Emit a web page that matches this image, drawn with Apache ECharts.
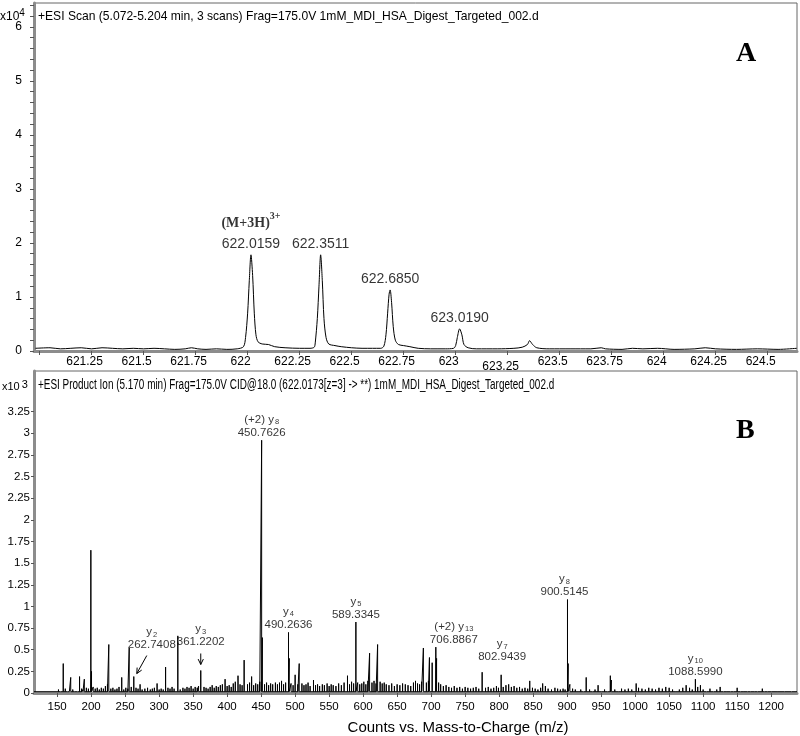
<!DOCTYPE html>
<html><head><meta charset="utf-8">
<script src="https://cdn.jsdelivr.net/npm/echarts@6/dist/echarts.min.js"></script>
<style>html,body{margin:0;padding:0;background:#fff}#c{width:800px;height:736px}</style>
</head><body><div id="c"></div>
<script>
// ---------- Panel A: MS1 profile (m/z, counts x10^4) ----------
const profileA = [
 [620.98,0.05],[621.05,0.06],[621.1,0.04],[621.15,0.05],[621.2,0.06],[621.25,0.04],[621.3,0.06],[621.35,0.05],[621.4,0.04],[621.45,0.05],[621.5,0.04],[621.55,0.05],[621.6,0.04],[621.65,0.03],[621.7,0.04],[621.73,0.06],[621.76,0.04],[621.8,0.03],[621.85,0.04],[621.9,0.03],[621.95,0.04],
 [621.98,0.08],[621.99,0.25],[622.0,0.7],[622.008,1.3],[622.016,1.78],[622.024,1.4],[622.032,0.7],[622.04,0.3],[622.05,0.17],[622.07,0.13],[622.1,0.12],[622.13,0.08],[622.18,0.06],[622.25,0.05],[622.3,0.05],[622.32,0.07],
 [622.325,0.15],[622.335,0.6],[622.343,1.2],[622.351,1.78],[622.359,1.3],[622.367,0.6],[622.377,0.25],[622.39,0.13],[622.42,0.1],[622.45,0.08],[622.5,0.06],[622.55,0.05],[622.6,0.05],[622.64,0.05],[622.655,0.09],
 [622.665,0.3],[622.673,0.7],[622.68,1.05],[622.685,1.13],[622.692,0.9],[622.7,0.45],[622.71,0.2],[622.725,0.12],[622.75,0.1],[622.78,0.08],[622.82,0.05],[622.88,0.04],[622.95,0.04],[622.99,0.05],[623.0,0.1],
 [623.008,0.25],[623.019,0.41],[623.03,0.3],[623.04,0.12],[623.06,0.06],[623.1,0.04],[623.2,0.04],[623.28,0.05],[623.32,0.07],[623.345,0.12],[623.355,0.19],[623.37,0.12],[623.39,0.06],[623.45,0.04],[623.55,0.04],[623.65,0.04],[623.7,0.06],[623.72,0.04],[623.8,0.03],[623.85,0.05],[623.9,0.04],[623.97,0.05],[624.05,0.03],[624.15,0.04],[624.2,0.06],[624.25,0.04],[624.35,0.03],[624.45,0.04],[624.55,0.03],[624.64,0.05]
];
const peakMzA = [622.0159, 622.3511, 622.6850, 623.0190];
const peakIntA = [1.78, 1.78, 1.13, 0.41];
const peakTextA = ['622.0159', '622.3511', '622.6850', '623.0190'];
const ionTextA = '(M+3H)';
const ionChargeA = '3+';
const xTickA = [621, 621.25, 621.5, 621.75, 622, 622.25, 622.5, 622.75, 623, 623.25, 623.5, 623.75, 624, 624.25, 624.5];
const xLabelA = [621.25, 621.5, 621.75, 622, 622.25, 622.5, 622.75, 623, 623.25, 623.5, 623.75, 624, 624.25, 624.5];
const yLabelA = [0, 1, 2, 3, 4, 5, 6];
const yMinorA = [0,0.2,0.4,0.6,0.8,1,1.2,1.4,1.6,1.8,2,2.2,2.4,2.6,2.8,3,3.2,3.4,3.6,3.8,4,4.2,4.4,4.6,4.8,5,5.2,5.4,5.6,5.8,6,6.2,6.4];
const headerA = '+ESI Scan (5.072-5.204 min, 3 scans) Frag=175.0V 1mM_MDI_HSA_Digest_Targeted_002.d';

// ---------- Panel B: MS/MS centroid (m/z, counts x10^3) ----------
const peaksB = [
 [159,0.34],[170,0.18],[183,0.19],[190,0.16],[199.6,1.65],[200.6,0.25],[226,0.56],[245,0.18],[256,0.52],[262.74,0.19],[272,0.1],[297,0.11],[309.5,0.3],[327.5,0.66],[361.22,0.26],[378,0.09],[397,0.16],[416,0.2],[425,0.38],[436,0.19],
 [450.76,2.92],[451.8,0.64],[471,0.12],[490.26,0.7],[491.3,0.4],[500,0.21],[506,0.34],[577,0.2],[589.33,0.82],[609.5,0.46],[621.3,0.56],[688.6,0.52],[697.5,0.41],[701.5,0.35],[706.89,0.53],[708,0.4],
 [775,0.24],[802.94,0.21],[845,0.14],[864,0.11],[900.51,1.08],[901.5,0.34],[928,0.18],[945.5,0.09],[963.5,0.2],[965,0.15],[1001.5,0.11],[1088.6,0.16],[1096,0.09],[1125,0.07],[1150,0.06],[1187,0.05]
];
const grassB = [
 [152,0.04],[155,0.03],[162,0.05],[165,0.02],[168,0.03],[173,0.04],[176,0.03],[180,0.02],[186,0.05],[188,0.04],[193,0.06],[196,0.05],[203,0.07],[206,0.05],[209,0.06],[212,0.04],[215,0.06],[218,0.05],[221,0.08],[224,0.1],[229,0.05],[232,0.06],[235,0.04],[238,0.05],[241,0.07],[248,0.04],[251,0.06],[254,0.05],[259,0.07],[266,0.06],[269,0.05],[275,0.04],[279,0.05],[283,0.06],[287,0.04],[290,0.05],[293,0.06],[300,0.04],[303,0.05],[306,0.04],[313,0.06],[316,0.05],[319,0.07],[322,0.05],[331,0.04],[335,0.06],[338,0.05],[341,0.07],[344,0.06],[347,0.08],[350,0.05],[353,0.07],[356,0.06],[358,0.08],[366,0.07],[369,0.06],[372,0.05],[375,0.07],[381,0.06],[384,0.08],[387,0.07],[390,0.09],[393,0.1],[400,0.08],[403,0.09],[406,0.07],[409,0.11],[412,0.13],[419,0.1],[422,0.09],[430,0.1],[433,0.12],[439,0.09],[442,0.11],[445,0.1],[448,0.13],[455,0.1],[458,0.12],[461,0.09],[464,0.11],[467,0.1],[474,0.1],[477,0.12],[480,0.14],[483,0.1],[486,0.12],[494,0.11],[497,0.09],[504,0.1],[510,0.11],[513,0.09],[516,0.1],[519,0.12],[522,0.08],[527,0.15],[530,0.09],[533,0.1],[536,0.08],[540,0.1],[543,0.09],[547,0.11],[550,0.08],[553,0.1],[556,0.09],[560,0.08],[564,0.11],[568,0.09],[572,0.12],[580,0.1],[583,0.13],[586,0.11],[592,0.12],[595,0.1],[598,0.11],[601,0.13],[604,0.1],[607,0.14],[613,0.12],[616,0.14],[619,0.11],[625,0.13],[628,0.11],[631,0.12],[634,0.1],[638,0.09],[642,0.11],[646,0.08],[650,0.1],[654,0.09],[658,0.11],[662,0.1],[666,0.09],[670,0.08],[674,0.12],[677,0.14],[680,0.11],[683,0.1],[686,0.13],[693,0.12],[696,0.14],[711,0.12],[714,0.1],[718,0.08],[722,0.09],[726,0.07],[730,0.06],[734,0.08],[738,0.06],[742,0.07],[746,0.05],[750,0.07],[754,0.06],[758,0.05],[762,0.06],[766,0.07],[770,0.05],[780,0.06],[784,0.07],[788,0.05],[792,0.06],[796,0.08],[799,0.06],[806,0.07],[810,0.09],[814,0.1],[818,0.07],[822,0.08],[826,0.06],[830,0.07],[834,0.05],[838,0.06],[842,0.05],[849,0.06],[853,0.05],[857,0.04],[861,0.06],[868,0.08],[872,0.05],[877,0.04],[882,0.06],[886,0.05],[890,0.04],[894,0.05],[897,0.04],[904,0.1],[908,0.05],[912,0.04],[916,0.03],[920,0.04],[924,0.03],[933,0.04],[937,0.03],[941,0.04],[950,0.03],[955,0.04],[959,0.03],[970,0.04],[975,0.03],[980,0.05],[985,0.04],[990,0.05],[995,0.04],[1005,0.06],[1010,0.05],[1015,0.04],[1020,0.06],[1025,0.05],[1030,0.04],[1035,0.06],[1040,0.05],[1045,0.07],[1050,0.06],[1055,0.04],[1060,0.03],[1065,0.04],[1070,0.06],[1075,0.09],[1080,0.06],[1084,0.04],[1092,0.07],[1100,0.04],[1105,0.03],[1110,0.05],[1115,0.03],[1120,0.04],[1130,0.03],[1135,0.02],[1140,0.03],[1145,0.02],[1155,0.02],[1160,0.03],[1165,0.02],[1170,0.02],[1175,0.03],[1180,0.02],[1190,0.03],[1195,0.02],[1200,0.02],[1210,0.02],[1220,0.01],[1230,0.02]
];
const annMzB   = [262.74, 361.22, 450.76, 490.26, 589.33, 706.89, 802.94, 900.51, 1088.6];
const annIntB  = [0.19, 0.26, 2.92, 0.70, 0.82, 0.53, 0.21, 1.08, 0.16];
const annIonB  = ['y', 'y', '(+2) y', 'y', 'y', '(+2) y', 'y', 'y', 'y'];
const annSubB  = ['2', '3', '8', '4', '5', '13', '7', '8', '10'];
const annTextB = ['262.7408', '361.2202', '450.7626', '490.2636', '589.3345', '706.8867', '802.9439', '900.5145', '1088.5990'];
const xLabelB = [150,200,250,300,350,400,450,500,550,600,650,700,750,800,850,900,950,1000,1050,1100,1150,1200];
const yLabelB = [0,0.25,0.5,0.75,1,1.25,1.5,1.75,2,2.25,2.5,2.75,3,3.25];
const headerB = '+ESI Product Ion (5.170 min) Frag=175.0V CID@18.0 (622.0173[z=3] -> **) 1mM_MDI_HSA_Digest_Targeted_002.d';
const xTitleB = 'Counts vs. Mass-to-Charge (m/z)';

// ---------- styling / building ----------
const SANS = "'Liberation Sans', Arial, sans-serif";
const SERIF = "'Liberation Serif', 'Times New Roman', serif";
const BASE = 0.015;

// build stick path for panel B
const allB = peaksB.concat(grassB).sort((a, b) => a[0] - b[0]);
const stickB = [[116, BASE]];
allB.forEach(p => { stickB.push([p[0], BASE], [p[0], p[1]], [p[0], BASE]); });
stickB.push([1238, BASE]);

const annA = peakMzA.map((m, i) => ({ value: [m, peakIntA[i]], txt: peakTextA[i], first: i === 0 }));
const offB = { 0: [18, -24], 1: [0, -21], 5: [18, 0], 6: [1, -10], 7: [-3, 0] };
const annB = annMzB.map((m, i) => ({ value: [m, annIntB[i]], label: { offset: offB[i] || [0, 0] } }));

const axisLineStyle = { color: '#8c8c8c', width: 3 };
const tickStyle = { color: '#555', width: 1 };

const chart = echarts.init(document.getElementById('c'), null, { renderer: 'canvas' });
const option = {
  animation: false,
  backgroundColor: '#fff',
  grid: [
    { left: 34, right: 3, top: 3, bottom: 385, show: true, borderColor: '#666', borderWidth: 1 },
    { left: 34, right: 3, top: 371, bottom: 38, show: true, borderColor: '#666', borderWidth: 1 }
  ],
  xAxis: [
    { type: 'value', gridIndex: 0, min: 620.973, max: 624.641,
      axisLine: { show: true, onZero: false, lineStyle: axisLineStyle },
      axisTick: { show: true, length: 4, lineStyle: tickStyle, customValues: xTickA },
      axisLabel: { customValues: xLabelA, color: '#000', fontFamily: SANS, fontSize: 12, margin: 5, padding: [0, 14, 0, 0],
        formatter: v => (Math.abs(v - 623.25) < 1e-6 ? '{low|' + v + '}' : String(v)),
        rich: { low: { fontFamily: SANS, fontSize: 12, color: '#000', padding: [5, 0, 0, 0] } } },
      splitLine: { show: false } },
    { type: 'value', gridIndex: 1, min: 116, max: 1238,
      name: xTitleB, nameLocation: 'middle', nameGap: 27,
      nameTextStyle: { fontFamily: SANS, fontSize: 15, color: '#000', padding: [0, 0, 0, 85] },
      axisLine: { show: true, onZero: false, lineStyle: axisLineStyle },
      axisTick: { show: true, length: 4, lineStyle: tickStyle, customValues: xLabelB },
      axisLabel: { customValues: xLabelB, color: '#000', fontFamily: SANS, fontSize: 11.5, margin: 8,
        formatter: v => String(v) },
      splitLine: { show: false } }
  ],
  yAxis: [
    { type: 'value', gridIndex: 0, min: 0, max: 6.44,
      axisLine: { show: true, onZero: false, lineStyle: axisLineStyle },
      axisTick: { show: true, length: 4, lineStyle: tickStyle, customValues: yMinorA },
      axisLabel: { customValues: yLabelA, color: '#000', fontFamily: SANS, fontSize: 12, margin: 12 },
      splitLine: { show: false } },
    { type: 'value', gridIndex: 1, min: 0, max: 3.72,
      axisLine: { show: true, onZero: false, lineStyle: axisLineStyle },
      axisTick: { show: true, length: 3, lineStyle: tickStyle, customValues: yLabelB },
      axisLabel: { customValues: yLabelB, color: '#000', fontFamily: SANS, fontSize: 11.5, margin: 4 },
      splitLine: { show: false } }
  ],
  series: [
    { type: 'line', xAxisIndex: 0, yAxisIndex: 0, data: profileA, showSymbol: false, symbol: 'none',
      lineStyle: { color: '#000', width: 1 }, smooth: 0.3, z: 3 },
    { type: 'scatter', xAxisIndex: 0, yAxisIndex: 0, symbolSize: 0, z: 5,
      data: annA.map(a => ({ value: a.value, txt: a.txt, first: a.first })),
      label: { show: true, position: 'top', distance: 3, color: '#000',
        formatter: p => p.data.first
          ? '{ion|' + ionTextA + '}{chg|' + ionChargeA + '}\n{num|' + p.data.txt + '}'
          : '{num|' + p.data.txt + '}',
        rich: {
          ion: { fontFamily: SERIF, fontWeight: 'bold', fontSize: 14, color: '#000', lineHeight: 24, align: 'left' },
          chg: { fontFamily: SERIF, fontWeight: 'bold', fontSize: 10, color: '#000', lineHeight: 24, verticalAlign: 'top', padding: [0, 0, 10, 0] },
          num: { fontFamily: SANS, fontSize: 14, color: '#000', lineHeight: 16 }
        } } },
    { type: 'line', xAxisIndex: 1, yAxisIndex: 1, data: stickB, showSymbol: false, symbol: 'none',
      lineStyle: { color: '#000', width: 1 }, z: 3 },
    { type: 'scatter', xAxisIndex: 1, yAxisIndex: 1, symbolSize: 0, z: 5,
      data: annB,
      label: { show: true, position: 'top', distance: 1, color: '#000',
        formatter: p => '{ion|' + annIonB[p.dataIndex] + '}{sub|' + annSubB[p.dataIndex] + '}\n{num|' + annTextB[p.dataIndex] + '}',
        rich: {
          ion: { fontFamily: SANS, fontSize: 11.5, color: '#000', lineHeight: 13 },
          sub: { fontFamily: SANS, fontSize: 7.5, color: '#000', lineHeight: 13, verticalAlign: 'bottom', padding: [4, 0, 0, 1] },
          num: { fontFamily: SANS, fontSize: 11.5, color: '#000', lineHeight: 13 }
        } } }
  ],
  graphic: [
    { type: 'text', x: 38, y: 10, scaleX: 0.93, style: { text: headerA, font: '13px ' + SANS, fill: '#000' } },
    { type: 'text', x: 38, y: 378, scaleX: 0.71, style: { text: headerB, font: '14px ' + SANS, fill: '#000' } },
    { type: 'text', x: 0, y: 3, style: { text: '{a|x10}{b|4}', rich: { a: { fontFamily: SANS, fontSize: 12, fill: '#000', padding: [8, 0, 0, 0] }, b: { fontFamily: SANS, fontSize: 10, fill: '#000' } } } },
    { type: 'text', x: 2, y: 378, style: { text: '{a|x10}{b|3}', rich: { a: { fontFamily: SANS, fontSize: 11, fill: '#000', padding: [3, 0, 0, 0] }, b: { fontFamily: SANS, fontSize: 11, fill: '#000', padding: [0, 0, 0, 2] } } } },
    { type: 'text', x: 736, y: 40, style: { text: 'A', font: 'bold 28px ' + SERIF, fill: '#000' } },
    { type: 'text', x: 736, y: 417, style: { text: 'B', font: 'bold 28px ' + SERIF, fill: '#000' } }
  ]
};
chart.setOption(option);

// arrows for y2 and y3 labels (placed relative to their peaks)
function arrowFromPeak(i, dx0, dy0, dx1, dy1) {
  const p = chart.convertToPixel({ xAxisIndex: 1, yAxisIndex: 1 }, [annMzB[i], annIntB[i]]);
  const x0 = p[0] + dx0, y0 = p[1] + dy0, x1 = p[0] + dx1, y1 = p[1] + dy1;
  const ang = Math.atan2(y1 - y0, x1 - x0), L = 6, w = 0.45;
  return [
    { type: 'line', shape: { x1: x0, y1: y0, x2: x1, y2: y1 }, style: { stroke: '#000', lineWidth: 1 } },
    { type: 'polyline', shape: { points: [[x1 - L * Math.cos(ang - w), y1 - L * Math.sin(ang - w)], [x1, y1], [x1 - L * Math.cos(ang + w), y1 - L * Math.sin(ang + w)]] }, style: { stroke: '#000', lineWidth: 1, fill: null } }
  ];
}
const arrows = [].concat(arrowFromPeak(0, 13, -21, 3, -3), arrowFromPeak(1, 0, -17, 0, -6));
chart.setOption({ graphic: option.graphic.concat(arrows) });
</script>
</body></html>
